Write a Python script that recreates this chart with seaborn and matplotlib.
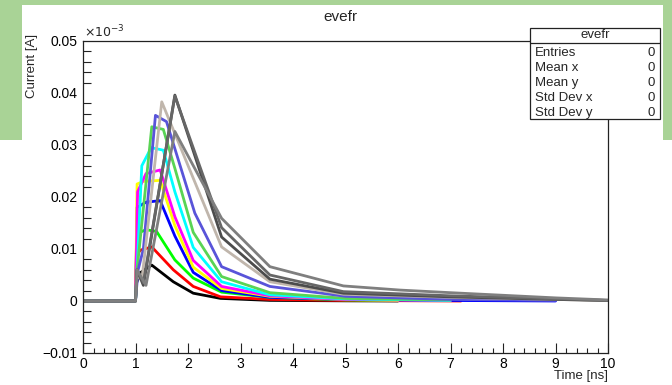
import matplotlib
matplotlib.use("Agg")
import matplotlib.pyplot as plt
import matplotlib.patches as mpatches
from matplotlib.ticker import MultipleLocator, FuncFormatter
import seaborn as sns
import pandas as pd

sns.set_theme(style="white")
plt.rcParams['font.family'] = ['Liberation Sans', 'DejaVu Sans']

# ---- data (current in units of 1e-3 A, time in ns) ----
names = ["c1", "c2", "c3", "c4", "c5", "c6", "c7", "c8", "c9", "c11", "c12", "c13", "c14"]
colors = ["#000000", "#ff0000", "#00ff00", "#0000ff", "#ffff00", "#ff00ff", "#00ffff",
          "#59d454", "#5954d9", "#c0b6ac", "#4c4c4c", "#666666", "#7f7f7f"]

t_c1 = [0, 1.0, 1.02, 1.1, 1.31, 1.72, 2.1, 2.62, 3.56, 5.0, 6.0]
v_c1 = [0, 0, 0.0035, 0.0055, 0.0069, 0.0037, 0.0015, 0.0005, 0.00012, 0.00003, 0]
t_c2 = [0, 1.0, 1.02, 1.1, 1.31, 1.72, 2.1, 2.62, 3.56, 5.0, 7.2]
v_c2 = [0, 0, 0.009, 0.0098, 0.0104, 0.0060, 0.0028, 0.0008, 0.0003, 0.0001, 0]
t_c3 = [0, 1.0, 1.03, 1.2, 1.4, 1.75, 2.1, 2.64, 3.56, 5.0, 6.0]
v_c3 = [0, 0, 0.013, 0.0137, 0.0134, 0.0079, 0.0044, 0.0017, 0.0007, 0.0002, 0.0001]
t_c4 = [0, 1.0, 1.03, 1.2, 1.47, 1.75, 2.1, 2.64, 3.56, 5.0, 7.0, 9.0]
v_c4 = [0, 0, 0.018, 0.019, 0.0193, 0.0125, 0.0055, 0.002, 0.0007, 0.0003, 0.0001, 0]
t_c5 = [0, 1.0, 1.03, 1.15, 1.47, 1.75, 2.1, 2.64, 3.56, 5.0, 6.0]
v_c5 = [0, 0, 0.0225, 0.023, 0.0232, 0.0145, 0.0065, 0.0024, 0.0009, 0.0003, 0.0001]
t_c6 = [0, 1.0, 1.04, 1.2, 1.47, 1.75, 2.1, 2.64, 3.56, 5.0, 7.0]
v_c6 = [0, 0, 0.021, 0.0245, 0.0252, 0.0162, 0.0078, 0.0028, 0.001, 0.0003, 0.0001]
t_c7 = [0, 1.0, 1.03, 1.12, 1.3, 1.53, 1.75, 2.1, 2.64, 3.56, 5.0, 7.0]
v_c7 = [0, 0, 0.006, 0.026, 0.0295, 0.029, 0.021, 0.0103, 0.0037, 0.0012, 0.0004, 0.0001]
t_c8 = [0, 1.0, 1.03, 1.31, 1.53, 1.75, 2.1, 2.64, 3.56, 5.0, 7.0]
v_c8 = [0, 0, 0.006, 0.0335, 0.033, 0.0255, 0.0132, 0.0047, 0.0016, 0.0005, 0.0002]
t_c9 = [0, 1.0, 1.05, 1.15, 1.38, 1.59, 2.13, 2.64, 3.56, 5.0, 7.0, 9.0]
v_c9 = [0, 0, 0.006, 0.010, 0.0357, 0.0345, 0.0169, 0.0066, 0.0028, 0.0009, 0.0003, 0.0001]
t_c11 = [0, 1.0, 1.03, 1.12, 1.5, 2.64, 3.56, 4.96, 7.0, 9.0, 10.0]
v_c11 = [0, 0, 0.005, 0.004, 0.0383, 0.0104, 0.0037, 0.0013, 0.0007, 0.0003, 0.0001]
t_c12 = [0, 1.0, 1.03, 1.15, 1.75, 2.64, 3.56, 4.96, 7.0, 9.0, 10.0]
v_c12 = [0, 0, 0.006, 0.003, 0.0396, 0.0123, 0.0042, 0.0015, 0.0008, 0.0003, 0.0001]
t_c13 = [0, 1.0, 1.03, 1.15, 1.75, 2.64, 3.56, 4.96, 7.0, 9.0, 10.0]
v_c13 = [0, 0, 0.006, 0.0035, 0.0394, 0.0141, 0.005, 0.0018, 0.001, 0.0004, 0.0001]
t_c14 = [0, 1.0, 1.03, 1.2, 1.75, 2.64, 3.56, 4.96, 6.04, 7.0, 9.0, 10.0]
v_c14 = [0, 0, 0.006, 0.003, 0.0326, 0.0159, 0.0066, 0.0029, 0.0021, 0.0016, 0.0006, 0.0002]

times = [t_c1, t_c2, t_c3, t_c4, t_c5, t_c6, t_c7, t_c8, t_c9, t_c11, t_c12, t_c13, t_c14]
values = [v_c1, v_c2, v_c3, v_c4, v_c5, v_c6, v_c7, v_c8, v_c9, v_c11, v_c12, v_c13, v_c14]

x_ticks = [0, 1, 2, 3, 4, 5, 6, 7, 8, 9, 10]
y_ticks = [-0.01, 0, 0.01, 0.02, 0.03, 0.04, 0.05]

stats_labels = ["Entries", "Mean x", "Mean y", "Std Dev x", "Std Dev y"]
stats_values = ["0", "0", "0", "0", "0"]

rows = []
for n, ts, vs in zip(names, times, values):
    for i, (t, v) in enumerate(zip(ts, vs)):
        rows.append({"curve": n, "order": i, "t": t, "v": v})
df = pd.DataFrame(rows)

W, H = 672, 385
fig = plt.figure(figsize=(W / 100, H / 100), dpi=100)
fig.patch.set_facecolor("white")

# slide background remnants (green)
green = "#a9d396"
fig.patches.append(mpatches.Rectangle((0, 1 - 5 / H), 1, 5 / H, transform=fig.transFigure,
                                      facecolor=green, edgecolor="none", zorder=0))
fig.patches.append(mpatches.Rectangle((0, 1 - 140 / H), 22 / W, 140 / H, transform=fig.transFigure,
                                      facecolor=green, edgecolor="none", zorder=0))
fig.patches.append(mpatches.Rectangle((663 / W, 1 - 140 / H), 9 / W, 140 / H, transform=fig.transFigure,
                                      facecolor=green, edgecolor="none", zorder=0))

ax = fig.add_axes([83 / W, (H - 353) / H, (608 - 83) / W, (353 - 41) / H])
sns.lineplot(data=df, x="t", y="v", hue="curve", hue_order=names, palette=colors,
             units="curve", estimator=None, sort=False, linewidth=2.0, legend=False, ax=ax)

ax.set_xlim(0, 10)
ax.set_ylim(-0.01, 0.05)
ax.set_xticks(x_ticks)
ax.set_yticks(y_ticks)
ax.xaxis.set_minor_locator(MultipleLocator(0.2))
ax.yaxis.set_minor_locator(MultipleLocator(0.002))
ax.xaxis.set_major_formatter(FuncFormatter(lambda x, p: "%d" % round(x)))
ax.yaxis.set_major_formatter(FuncFormatter(lambda y, p: "0" if abs(y) < 1e-9 else ("%.2f" % y).replace("-", "\u2212")))
ax.tick_params(axis="both", which="both", direction="in", colors="#222222", labelcolor="black",
               labelsize=10, top=False, right=False)
ax.tick_params(axis="y", which="major", length=11.5, width=0.8, pad=4)
ax.tick_params(axis="y", which="minor", length=5.8, width=0.8, left=True)
ax.tick_params(axis="x", which="major", length=7.2, width=0.8, pad=3, bottom=True)
ax.tick_params(axis="x", which="minor", length=3.6, width=0.8, bottom=True)
for s in ax.spines.values():
    s.set_color("#222222")
    s.set_linewidth(0.9)
ax.set_xlabel("")
ax.set_ylabel("")
ax.grid(False)

fig.text(340 / W, 1 - 17 / H, "evefr", ha="center", va="center", fontsize=11)
fig.text(32 / W, 1 - 34 / H, "Current [A]", rotation=90, ha="center", va="top", fontsize=9.5)
fig.text(84 / W, 1 - 40 / H, r"$\times10^{-3}$", ha="left", va="bottom", fontsize=9)
fig.text(608 / W, 1 - 376 / H, "Time [ns]", ha="right", va="center", fontsize=9.5)

# stats box
bx0, bx1, by0, by1 = 530, 660, 28, 119
fig.patches.append(mpatches.Rectangle((bx0 / W, 1 - by1 / H), (bx1 - bx0) / W, (by1 - by0) / H,
                                      transform=fig.transFigure, facecolor="white",
                                      edgecolor="#222222", linewidth=0.9, zorder=5))
fig.lines.append(plt.Line2D([bx0 / W, bx1 / W], [1 - 43 / H, 1 - 43 / H], transform=fig.transFigure,
                            color="#222222", linewidth=0.9, zorder=6))
fig.text((bx0 + bx1) / 2 / W, 1 - 35.5 / H, "evefr", ha="center", va="center", fontsize=9.5, zorder=7)
for i, (lab, val) in enumerate(zip(stats_labels, stats_values)):
    yy = 1 - (53 + 15 * i) / H
    fig.text(535 / W, yy, lab, ha="left", va="center", fontsize=9.5, zorder=7)
    fig.text(655 / W, yy, val, ha="right", va="center", fontsize=9.5, zorder=7)

fig.savefig("out.png", dpi=100)
